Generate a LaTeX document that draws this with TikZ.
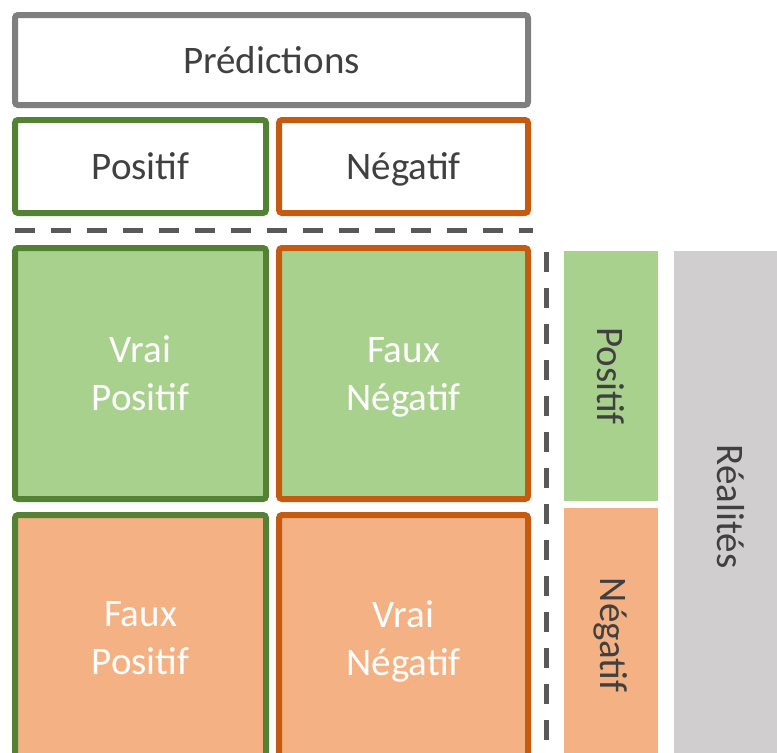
\documentclass[tikz,border=0pt]{standalone}
\usepackage{fontspec}
\setmainfont{Carlito}
\usetikzlibrary{positioning}

\definecolor{greenline}{HTML}{548235}
\definecolor{orangeline}{HTML}{C55A11}
\definecolor{greenfill}{HTML}{A9D18E}
\definecolor{orangefill}{HTML}{F4B183}
\definecolor{greyline}{HTML}{7F7F7F}
\definecolor{greyfill}{HTML}{D0CECE}
\definecolor{sepgrey}{HTML}{595959}
\definecolor{textgrey}{HTML}{404040}

\begin{document}
\begin{tikzpicture}[
    x=0.5pt, y=-0.5pt,
    every node/.style={font=\fontsize{19.5}{24}\selectfont, outer sep=0pt, inner sep=0pt},
    headbox/.style={rectangle, draw, line width=3pt, rounded corners=1.5pt, fill=white, text=textgrey, text depth=0pt, minimum height=46.5pt},
    cellbox/.style={rectangle, draw, line width=3pt, rounded corners=1.5pt, text=white, align=center, text depth=0pt, minimum width=125.5pt},
    sidebox/.style={rectangle, text=textgrey, minimum width=47pt},
    sepline/.style={draw=sepgrey, line width=2.5pt, dash pattern=on 10pt off 8pt}
]
    \useasboundingbox (0,0) rectangle (777,752);
    \clip (0,0) rectangle (777,752);

    % Predictions header
    \node [headbox, draw=greyline, minimum width=256.5pt, minimum height=45pt] (pred) at (271.5,60) {Prédictions};
    \node [headbox, draw=greenline, minimum width=125.5pt, below right=7.5pt and 0pt of pred.south west] (predpos) {Positif};
    \node [headbox, draw=orangeline, minimum width=124.5pt, right=6.5pt of predpos] (predneg) {Négatif};

    % Matrix cells
    \node [cellbox, draw=greenline, fill=greenfill, minimum height=125.5pt, below=17.5pt of predpos] (vp) {Vrai\\Positif};
    \node [cellbox, draw=orangeline, fill=greenfill, minimum width=124.5pt, minimum height=125.5pt, right=6.5pt of vp] (fn) {Faux\\Négatif};
    \node [cellbox, draw=greenline, fill=orangefill, minimum height=123pt, below=8pt of vp] (fp) {Faux\\Positif};
    \node [cellbox, draw=orangeline, fill=orangefill, minimum width=124.5pt, minimum height=123pt, right=6.5pt of fp] (vn) {Vrai\\Négatif};

    % Realities side
    \node [sidebox, fill=greenfill, minimum height=125pt] (realpos) at (611,376) {\rotatebox{-90}{Positif}};
    \node [sidebox, fill=orangefill, minimum height=127pt, below=3.5pt of realpos] (realneg) {\rotatebox{-90}{Négatif}};
    \node [sidebox, fill=greyfill, minimum width=57pt, minimum height=255.5pt, below right=0pt and 8pt of realpos.north east] (real) {\rotatebox{-90}{Réalités}};

    % Separators
    \coordinate (hsepa) at (15,230);
    \coordinate (hsepb) at (533,230);
    \coordinate (vsepa) at (546,252);
    \coordinate (vsepb) at (546,760);
    \path [sepline] (hsepa) -- (hsepb);
    \path [sepline] (vsepa) -- (vsepb);

\end{tikzpicture}
\end{document}
